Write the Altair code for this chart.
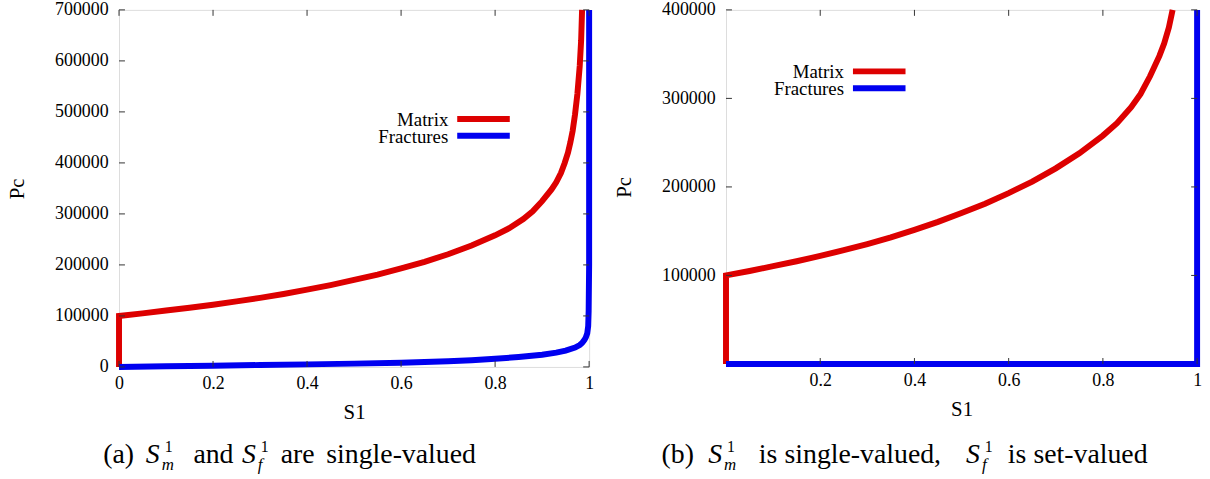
import altair as alt
import pandas as pd

# ---------------- data ----------------
matrix_s = [0, 0, 0.05, 0.1, 0.15, 0.2, 0.25, 0.3, 0.35, 0.4, 0.45, 0.5, 0.55, 0.6, 0.65, 0.7, 0.75, 0.8,
            0.83, 0.86, 0.88, 0.9, 0.92, 0.93, 0.94, 0.948, 0.955, 0.96, 0.965, 0.97, 0.975, 0.98, 0.983, 0.985]
matrix_pc = [0, 100000, 105000, 110500, 116000, 122000, 128500, 135500, 143000, 151500, 160500, 170500,
             181000, 193000, 206000, 221000, 238000, 258000, 272000, 290000, 305000, 325000, 348000,
             362000, 380000, 400000, 420000, 440000, 463000, 495000, 535000, 590000, 640000, 700000]

frac_a_s = [0, 0.1, 0.2, 0.3, 0.4, 0.5, 0.6, 0.7, 0.75, 0.8, 0.85, 0.9, 0.93, 0.95, 0.97, 0.98, 0.985,
            0.99, 0.993, 0.996, 0.998, 0.999, 1.0, 1.0]
frac_a_pc = [0, 1200, 2500, 3700, 5000, 6500, 8300, 11000, 13000, 16000, 19500, 24000, 28000, 32000,
             38000, 43000, 47000, 53000, 58000, 66000, 80000, 110000, 200000, 700000]

frac_b_s = [0, 1, 1]
frac_b_pc = [0, 0, 400000]

left_xticks = [0, 0.2, 0.4, 0.6, 0.8, 1]
left_yticks = [0, 100000, 200000, 300000, 400000, 500000, 600000, 700000]
right_xticks = [0.2, 0.4, 0.6, 0.8, 1]
right_yticks = [100000, 200000, 300000, 400000]

legend_labels = ["Matrix", "Fractures"]
caption_a = [("(a)", "normal", "big"), ("S", "italic", "big"), ("1", "normal", "sup"), ("m", "italic", "sub"),
             ("and", "normal", "big"), ("S", "italic", "big"), ("1", "normal", "sup"), ("f", "italic", "sub"),
             ("are", "normal", "big"), ("single-valued", "normal", "big")]
caption_b = [("(b)", "normal", "big"), ("S", "italic", "big"), ("1", "normal", "sup"), ("m", "italic", "sub"),
             ("is", "normal", "big"), ("single-valued,", "normal", "big"), ("S", "italic", "big"),
             ("1", "normal", "sup"), ("f", "italic", "sub"), ("is", "normal", "big"), ("set-valued", "normal", "big")]
# caption piece x offsets (page px) - layout only
caption_a_x = [103, 146, 165, 162, 194, 243, 262, 259, 282, 328]
caption_b_x = [659, 706, 725, 722, 757, 783, 966, 985, 982, 1008, 1034]

RED = "#dd0000"
BLUE = "#0000f0"
SERIF = "Liberation Serif"

mat_df = pd.DataFrame({"S1": matrix_s, "Pc": matrix_pc, "i": range(len(matrix_s))})
fa_df = pd.DataFrame({"S1": frac_a_s, "Pc": frac_a_pc, "i": range(len(frac_a_s))})
fb_df = pd.DataFrame({"S1": frac_b_s, "Pc": frac_b_pc, "i": range(len(frac_b_s))})


def one():
    return alt.Data(values=[{"k": 0}])


def panel(W, H, x0, y0, ymax, xticks, yticks, mat, frac, legend_x, legend_y, cap, cap_x):
    xs = alt.Scale(domain=[0, 1], nice=False, zero=False)
    ys = alt.Scale(domain=[0, ymax], nice=False, zero=False)
    xaxis = alt.Axis(values=xticks, format="~g", title="S1", ticks=False, domain=False, grid=False,
                     labelFont=SERIF, labelFontSize=18, labelPadding=8, labelColor="black",
                     titleFont=SERIF, titleFontSize=21, titleFontWeight="normal", titlePadding=9,
                     titleColor="black", labelFlush=False)
    yaxis = alt.Axis(values=yticks, format="d", title="Pc", ticks=False, domain=False, grid=False,
                     labelFont=SERIF, labelFontSize=18, labelPadding=11, labelColor="black",
                     titleFont=SERIF, titleFontSize=21, titleFontWeight="normal", titlePadding=27,
                     titleColor="black")
    X = lambda f: alt.X(f, scale=xs, axis=xaxis)
    Y = lambda f: alt.Y(f, scale=ys, axis=yaxis)
    layers = []
    red = alt.Chart(mat).mark_line(color=RED, strokeWidth=6).encode(x=X("S1:Q"), y=Y("Pc:Q"), order="i:Q")
    if ymax < 700000:
        red = red.transform_filter(alt.datum.Pc <= ymax)
    blue = alt.Chart(frac).mark_line(color=BLUE, strokeWidth=6).encode(x=X("S1:Q"), y=Y("Pc:Q"), order="i:Q")
    layers += [red, blue]
    # inward ticks (gnuplot style, mirrored)
    ydf = pd.DataFrame({"Pc": yticks})
    xdf = pd.DataFrame({"S1": xticks})
    tk = dict(color="#333333", strokeWidth=1)
    layers.append(alt.Chart(ydf).mark_rule(**tk).encode(y=Y("Pc:Q"), x=alt.value(0), x2=alt.value(6)))
    layers.append(alt.Chart(ydf).mark_rule(**tk).encode(y=Y("Pc:Q"), x=alt.value(W - 6), x2=alt.value(W)))
    layers.append(alt.Chart(xdf).mark_rule(**tk).encode(x=X("S1:Q"), y=alt.value(H), y2=alt.value(H - 6)))
    layers.append(alt.Chart(xdf).mark_rule(**tk).encode(x=X("S1:Q"), y=alt.value(0), y2=alt.value(6)))
    # legend
    for k, (lab, col) in enumerate(zip(legend_labels, [RED, BLUE])):
        yy = legend_y + k * 17
        layers.append(alt.Chart(one()).mark_text(text=lab, font=SERIF, fontSize=19, align="right",
                                                 baseline="middle", color="black").encode(
            x=alt.value(legend_x), y=alt.value(yy + 1)))
        layers.append(alt.Chart(one()).mark_rule(color=col, strokeWidth=6).encode(
            x=alt.value(legend_x + 9), x2=alt.value(legend_x + 62), y=alt.value(yy)))
    # caption
    base = 465 - y0
    for (txt, style, kind), px in zip(cap, cap_x):
        if kind == "big":
            fs, yy = 28, base
        elif kind == "sup":
            fs, yy = 16, base - 11
        else:
            fs, yy = 17, base + 7
        layers.append(alt.Chart(one()).mark_text(text=txt, font=SERIF, fontSize=fs, fontStyle=style,
                                                 align="left", baseline="alphabetic", color="black").encode(
            x=alt.value(px - x0), y=alt.value(yy)))
    return alt.layer(*layers).properties(width=W, height=H)


left = panel(474, 360, 119, 8, 700000, left_xticks, left_yticks, mat_df, fa_df, 332, 110,
             caption_a, caption_a_x)
right = panel(475, 357, 724, 8, 400000, right_xticks, right_yticks, mat_df, fb_df, 119, 62,
              caption_b, caption_b_x)

chart = alt.hconcat(left, right, spacing=11).properties(
    padding={"left": 6, "top": -5, "right": 0, "bottom": 0}
).configure_view(stroke="black", strokeWidth=1).configure(background="white")

chart.save("out.html", embed_options={"renderer": "svg", "actions": False})
